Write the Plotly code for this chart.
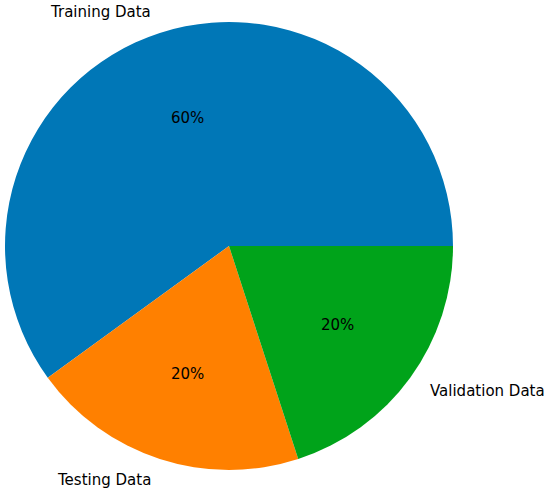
import math
import plotly.graph_objects as go

labels = ["Training Data", "Testing Data", "Validation Data"]
values = [60, 20, 20]
colors = ["#0077b7", "#ff8000", "#00a31a"]

W, H = 550, 494
cx, cy, r = 229, 246, 224

total = sum(values)

fig = go.Figure()
fig.add_trace(
    go.Pie(
        labels=labels,
        values=values,
        marker=dict(colors=colors),
        sort=False,
        direction="counterclockwise",
        # first slice starts at 3 o'clock and runs counterclockwise
        rotation=90 - 360.0 * values[0] / total,
        textinfo="none",
        hoverinfo="label+percent",
        showlegend=False,
        domain=dict(x=[(cx - r) / W, (cx + r) / W],
                    y=[1 - (cy + r) / H, 1 - (cy - r) / H]),
    )
)

# labels outside (1.1 r) and percentages inside (0.6 r), like matplotlib
start = 0.0
annotations = []
for lab, v in zip(labels, values):
    mid = math.radians(start + 360.0 * v / total / 2)
    start += 360.0 * v / total
    lx = cx + 1.1 * r * math.cos(mid)
    ly = cy - 1.1 * r * math.sin(mid)
    annotations.append(dict(
        x=lx / W, y=1 - ly / H, xref="paper", yref="paper",
        text=lab, showarrow=False,
        xanchor="left" if math.cos(mid) >= 0 else "right", yanchor="middle",
        font=dict(size=15, color="#000000"),
    ))
    px = cx + 0.6 * r * math.cos(mid)
    py = cy - 0.6 * r * math.sin(mid)
    annotations.append(dict(
        x=px / W, y=1 - py / H, xref="paper", yref="paper",
        text=f"{100 * v / total:.0f}%", showarrow=False,
        xanchor="center", yanchor="middle",
        font=dict(size=15, color="#000000"),
    ))

fig.update_layout(
    width=W,
    height=H,
    margin=dict(l=0, r=0, t=0, b=0),
    paper_bgcolor="white",
    plot_bgcolor="white",
    font=dict(family="DejaVu Sans"),
    annotations=annotations,
)

# drop the default 8px body margin so the figure fills the window
fig.write_html(
    "out.html",
    config={"displayModeBar": False},
    post_script="document.body.style.margin='0';",
)
